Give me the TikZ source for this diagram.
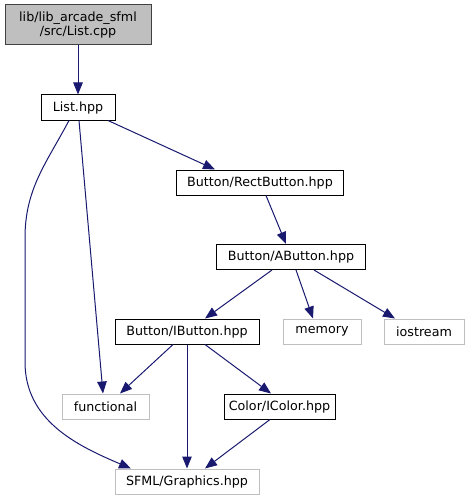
\documentclass[tikz,border=0pt]{standalone}
\usepackage{fontspec}
\setmainfont{DejaVu Sans}
\usetikzlibrary{arrows.meta}

\definecolor{edgeblue}{HTML}{191970}
\definecolor{rootgray}{HTML}{BFBFBF}
\definecolor{extgray}{HTML}{BFBFBF}

\begin{document}
\begin{tikzpicture}[x=1pt,y=-1pt]
   \tikzstyle{every node}=[font=\fontsize{12.7}{14.5}\selectfont,minimum height=25pt,inner sep=0pt,align=center]
   \tikzstyle{root}=[draw=black!75,fill=rootgray,line width=1pt,minimum height=40pt]
   \tikzstyle{file}=[draw=black,line width=1pt]
   \tikzstyle{ext}=[draw=extgray,line width=1pt]
   \tikzstyle{dep}=[draw=edgeblue,line width=1pt,-{Triangle[length=12pt,width=9.5pt]}]
   \useasboundingbox (0,0) rectangle (470,500);

   \node (cpp) [root,minimum width=146pt] at (78,25) {lib/lib\_arcade\_sfml\\/src/List.cpp} ;
   \node (lhpp) [file,minimum width=74pt,below of=cpp,node distance=82.5pt] {List.hpp} ;
   \node (rect) [file,minimum width=167pt] at (260,182.5) {Button/RectButton.hpp} ;
   \node (abtn) [file,minimum width=149pt] at (291,257) {Button/AButton.hpp} ;
   \node (ibtn) [file,minimum width=144pt] at (187,331.5) {Button/IButton.hpp} ;
   \node (mem) [ext,minimum width=78pt,right of=ibtn,node distance=135pt] {memory} ;
   \node (ios) [ext,minimum width=80pt,right of=mem,node distance=102pt] {iostream} ;
   \node (func) [ext,minimum width=87pt] at (105.5,406.5) {functional} ;
   \node (icol) [file,minimum width=111pt] at (279.5,406.5) {Color/IColor.hpp} ;
   \node (sfml) [ext,minimum width=144pt,below of=ibtn,node distance=150pt] {SFML/Graphics.hpp} ;

   \coordinate (bendtop) at (25,238) ;
   \coordinate (bendbot) at (25,362) ;

   \draw [dep] (cpp.south) -- (lhpp.north) ;
   \draw [dep] ([xshift=30pt]lhpp.south) -- ([xshift=-45pt]rect.north) ;
   \draw [dep] ([xshift=1pt]lhpp.south) -- ([xshift=-2.5pt]func.north) ;
   \draw [dep] ([xshift=-9pt]lhpp.south) to[out=-118,in=90] (bendtop) -- (bendbot) to[out=-90,in=157] ([xshift=-56pt]sfml.north) ;
   \draw [dep] ([xshift=6pt]rect.south) -- ([xshift=-5pt]abtn.north) ;
   \draw [dep] ([xshift=-19pt]abtn.south) -- ([xshift=18pt]ibtn.north) ;
   \draw [dep] ([xshift=5pt]abtn.south) -- ([xshift=-9pt]mem.north) ;
   \draw [dep] ([xshift=23pt]abtn.south) -- ([xshift=-29pt]ios.north) ;
   \draw [dep] ([xshift=-14pt]ibtn.south) -- ([xshift=14.5pt]func.north) ;
   \draw [dep] (ibtn.south) -- (sfml.north) ;
   \draw [dep] ([xshift=18pt]ibtn.south) -- ([xshift=-8.5pt]icol.north) ;
   \draw [dep] ([xshift=-9.5pt]icol.south) -- ([xshift=18pt]sfml.north) ;

\end{tikzpicture}
\end{document}
